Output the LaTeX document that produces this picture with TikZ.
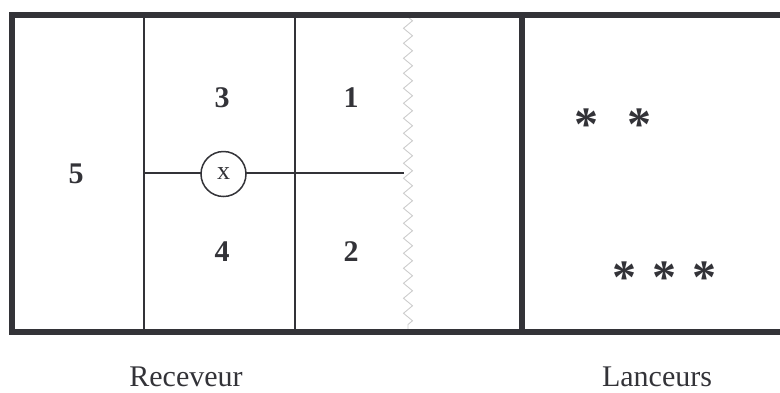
\documentclass[tikz,border=0pt]{standalone}
\usepackage{fontspec}
\setmainfont{Liberation Serif}
\usetikzlibrary{decorations.pathmorphing}
\definecolor{ink}{HTML}{333338}
\definecolor{zig}{HTML}{CCCCCC}
\begin{document}
\begin{tikzpicture}[x=1pt,y=-1pt,
  frame/.style={draw=ink,line width=6pt},
  thin/.style={draw=ink,line width=1.8pt},
  num/.style={font=\fontsize{30}{30}\selectfont\bfseries,text=ink,inner sep=0pt},
  lbl/.style={font=\fontsize{30}{30}\selectfont,text=ink,inner sep=0pt,anchor=base,text depth=0pt},
  star/.style={font=\fontsize{48}{48}\selectfont\bfseries,text=ink,inner sep=0pt}]
\useasboundingbox (0,0) rectangle (780,392);
% coordinates
\coordinate (tl) at (9,15);
\coordinate (tr) at (780,15);
\coordinate (bl) at (9,332);
\coordinate (br) at (780,332);
\coordinate (lt) at (12,12);
\coordinate (lb) at (12,335);
\coordinate (dt) at (522,15);
\coordinate (db) at (522,332);
\coordinate (v1t) at (144,15);
\coordinate (v1b) at (144,332);
\coordinate (v2t) at (295,15);
\coordinate (v2b) at (295,332);
\coordinate (hl) at (144,173);
\coordinate (hr) at (404,173);
\coordinate (zt) at (408,17);
\coordinate (zb) at (408,330);
% zigzag
\draw[zig,line width=0.9pt,decorate,decoration={zigzag,segment length=15pt,amplitude=4.5pt}] (zt) -- (zb);
% inner lines
\draw[thin] (v1t) -- (v1b);
\draw[thin] (v2t) -- (v2b);
\draw[thin] (hl) -- (hr);
% frame
\draw[frame] (tl) -- (tr);
\draw[frame] (bl) -- (br);
\draw[frame] (lt) -- (lb);
\draw[frame] (dt) -- (db);
% receiver circle
\node[circle,draw=ink,line width=1.5pt,fill=white,minimum size=45pt,inner sep=0pt,
  font=\fontsize{26}{26}\selectfont,text=ink] (x) at (223.5,174) {x};
% numbers
\node[num] (n5) at (76,174) {5};
\node[num] (n3) at (222,98) {3};
\node[num] (n1) at (351,98) {1};
\node[num] (n4) at (222,252) {4};
\node[num] (n2) at (351,252) {2};
% asterisks
\node[star] (s1) at (586,125) {*};
\node[star] (s2) at (639,125) {*};
\node[star] (s3) at (624,278) {*};
\node[star] (s4) at (664,278) {*};
\node[star] (s5) at (704,278) {*};
% labels
\node[lbl] (rec) at (186,386) {Receveur};
\node[lbl] (lan) at (657,386) {Lanceurs};
\end{tikzpicture}
\end{document}
